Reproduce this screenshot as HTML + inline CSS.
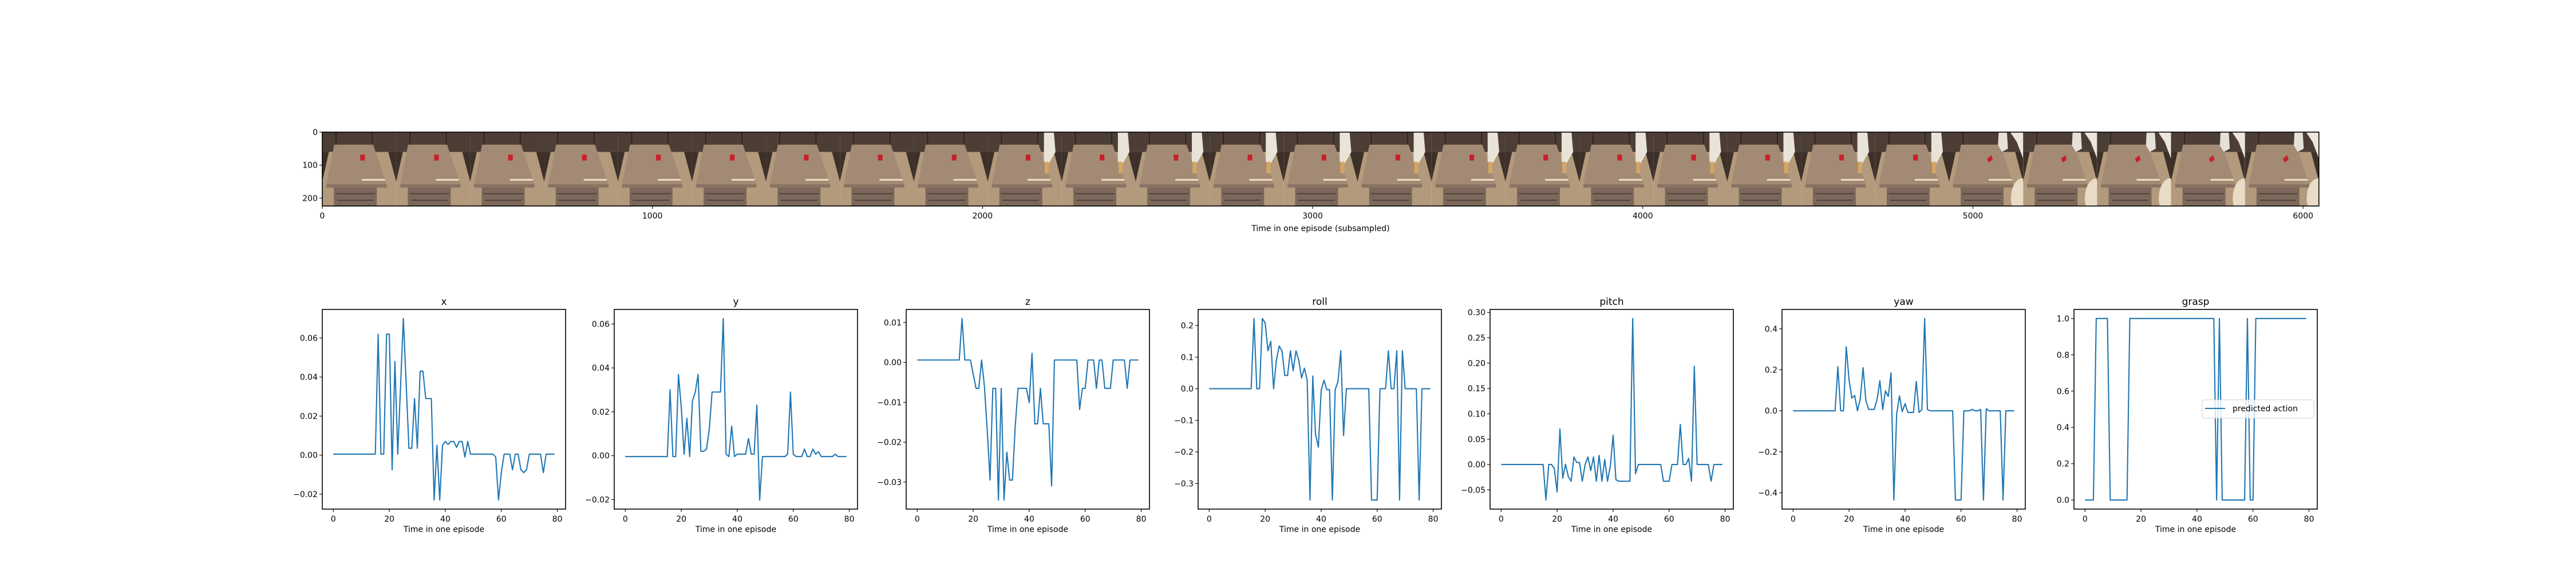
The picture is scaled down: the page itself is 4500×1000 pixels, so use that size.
<!DOCTYPE html>
<html><head><meta charset="utf-8">
<style>
html,body{margin:0;padding:0;background:#fff;}
svg{display:block;font-family:"DejaVu Sans","Liberation Sans",sans-serif;}
</style></head>
<body>
<svg id="fig" width="4500" height="1000" viewBox="0 0 4500 1000" xmlns="http://www.w3.org/2000/svg">
<defs>
<clipPath id="fclip"><rect x="0" y="0" width="224" height="224"/></clipPath>
<g id="frameA">
  <rect x="0" y="0" width="224" height="224" fill="#b39a7c"/>
  <rect x="0" y="0" width="224" height="60" fill="#4d3e35"/>
  <rect x="40" y="0" width="3" height="60" fill="#2a221d"/>
  <rect x="150" y="0" width="3" height="60" fill="#2a221d"/>
  <polygon points="0,60 20,60 0,150" fill="#3d3029"/>
  <polygon points="224,60 200,60 224,150" fill="#3d3029"/>
  <polygon points="36,38 154,38 195,158 12,158" fill="#a38a74"/>
  <rect x="12" y="158" width="183" height="10" fill="#8a7362"/>
  <rect x="120" y="142" width="70" height="5" fill="#efe2c6"/>
  <rect x="35" y="168" width="130" height="56" fill="#7b685b"/>
  <rect x="40" y="185" width="120" height="3" fill="#4b3d34"/>
  <rect x="45" y="205" width="110" height="3" fill="#4b3d34"/>
  <rect x="115" y="68" width="14" height="18" fill="#c8202a"/>
</g>
<g id="frameB">
  <use href="#frameA"/>
  <polygon points="170,0 200,0 205,60 185,95 170,90" fill="#e9e3d8"/>
  <rect x="172" y="90" width="12" height="35" fill="#d4a660"/>
</g>
<g id="frameC" clip-path="url(#fclip)">
  <use href="#frameA"/>
  <rect x="110" y="60" width="25" height="35" fill="#a38a74"/>
  <polygon points="115,80 128,70 132,84 119,92" fill="#c8202a"/>
  <polygon points="150,0 175,0 178,50 160,60 148,40" fill="#e6e1d8"/>
  <polygon points="185,0 224,0 224,80 205,30" fill="#ece6dc"/>
  <ellipse cx="222" cy="200" rx="35" ry="60" fill="#e9dcc6"/>
</g>
</defs>
<g id="strip"></g>
<g id="panels"></g>
</svg>
<script>
// ---- data ----
const frameCount = 27;
const stripXTicks = [0,1000,2000,3000,4000,5000,6000];
const stripYTicks = [0,100,200];
const panelTitles = ["x","y","z","roll","pitch","yaw","grasp"];
const xTicks = [0,20,40,60,80];
const seriesX = [0.0005,0.0005,0.0005,0.0005,0.0005,0.0005,0.0005,0.0005,0.0005,0.0005,0.0005,0.0005,0.0005,0.0005,0.0005,0.0005,
 0.062,0.0005,0.0005,0.062,0.062,-0.0075,0.048,0.0005,0.035,0.07,0.037,0.0035,0.0035,0.029,0.0035,0.043,0.043,0.029,0.029,0.029,
 -0.023,0.005,-0.023,0.005,0.007,0.0055,0.007,0.007,0.004,0.007,0.007,-0.001,0.007,0.0005,0.0005,0.0005,0.0005,0.0005,0.0005,0.0005,0.0005,0.0005,
 -0.001,-0.023,-0.009,0.0005,0.0005,0.0005,-0.0075,0.0005,0.0005,-0.0075,-0.009,-0.0075,0.0005,0.0005,0.0005,0.0005,0.0005,-0.009,0.0005,0.0005,0.0005,0.0005];
const seriesY = [-0.0004,-0.0004,-0.0004,-0.0004,-0.0004,-0.0004,-0.0004,-0.0004,-0.0004,-0.0004,-0.0004,-0.0004,-0.0004,-0.0004,-0.0004,-0.0004,
 0.03,-0.0004,-0.0004,0.037,0.022,0.0007,0.017,-0.0004,0.025,0.029,0.037,0.002,0.002,0.003,0.012,0.029,0.029,0.029,0.029,0.0625,
 0.0007,-0.0004,0.0135,-0.0004,0.0007,0.0007,0.0007,0.0007,0.0078,0.0007,0.0007,0.023,-0.0202,-0.0004,-0.0004,-0.0004,-0.0004,-0.0004,-0.0004,-0.0004,-0.0004,-0.0004,
 0.0007,0.029,0.0007,-0.0004,-0.0004,-0.0004,0.003,-0.0004,-0.0004,0.003,0.0007,0.0018,-0.0004,-0.0004,-0.0004,-0.0004,-0.0004,0.0007,-0.0004,-0.0004,-0.0004,-0.0004];
const seriesZ = [0.0006,0.0006,0.0006,0.0006,0.0006,0.0006,0.0006,0.0006,0.0006,0.0006,0.0006,0.0006,0.0006,0.0006,0.0006,0.0006,
 0.011,0.0006,0.0006,0.0006,-0.003,-0.0065,-0.0065,0.0006,-0.006,-0.017,-0.0295,-0.0065,-0.0065,-0.0345,-0.0065,-0.0345,-0.0225,-0.0295,-0.0295,-0.016,
 -0.0065,-0.0065,-0.0065,-0.0065,-0.0101,0.0023,-0.0154,-0.0154,-0.0065,-0.0154,-0.0154,-0.0154,-0.031,0.0006,0.0006,0.0006,0.0006,0.0006,0.0006,0.0006,0.0006,0.0006,
 -0.0118,-0.0065,-0.0065,0.0006,0.0006,0.0006,-0.0065,0.0006,0.0006,-0.0065,-0.0065,-0.0065,0.0006,0.0006,0.0006,0.0006,0.0006,-0.0065,0.0006,0.0006,0.0006,0.0006];
const seriesRoll = [0,0,0,0,0,0,0,0,0,0,0,0,0,0,0,0,
 0.222,0,0,0.222,0.208,0.12,0.15,0,0.09,0.135,0.12,0.042,0.042,0.12,0.057,0.12,0.09,0.034,0.065,0.028,
 -0.352,0.04,-0.145,-0.185,-0.005,0.027,-0.003,-0.003,-0.352,-0.003,0.022,0.12,-0.148,0,0,0,0,0,0,0,0,0,
 -0.352,-0.352,-0.352,0,0,0,0.12,0,0,0.12,-0.352,0.12,0,0,0,0,0,-0.352,0,0,0,0];
const seriesPitch = [0,0,0,0,0,0,0,0,0,0,0,0,0,0,0,0,
 -0.07,0,0,-0.008,-0.054,0.07,-0.027,0.0005,-0.024,-0.033,0.015,0.004,0.004,-0.033,0,0.015,-0.012,0.015,-0.033,0.018,
 -0.033,0.01,-0.033,-0.003,0.058,-0.03,-0.033,-0.033,-0.033,-0.033,-0.033,0.288,-0.018,0,0,0,0,0,0,0,0,0,
 -0.033,-0.033,-0.033,0,0,0,0.079,0,0,0.012,-0.033,0.194,0,0,0,0,0,-0.033,0,0,0,0];
const seriesYaw = [0,0,0,0,0,0,0,0,0,0,0,0,0,0,0,0,
 0.215,0,0,0.312,0.15,0.062,0.075,0,0.058,0.21,0.05,0.007,0.007,0.007,0.055,0.147,0.006,0.097,0.07,0.185,
 -0.435,-0.015,0.073,-0.004,0.035,-0.008,-0.008,-0.008,0.143,-0.008,0.006,0.45,0.006,0,0,0,0,0,0,0,0,0,
 -0.435,-0.435,-0.435,0,0,0,0.007,0,0,0.007,-0.435,0.01,0,0,0,0,0,-0.435,0,0,0,0];
const seriesGrasp = [0,0,0,0,1,1,1,1,1,0,0,0,0,0,0,0,
 1,1,1,1,1,1,1,1,1,1,1,1,1,1,1,1,1,1,1,1,1,1,1,1,1,1,1,1,1,1,1,
 0,1,0,0,0,0,0,0,0,0,0,1,0,0,
 1,1,1,1,1,1,1,1,1,1,1,1,1,1,1,1,1,1,1];
const yTicksX = [-0.02,0,0.02,0.04,0.06];
const yTicksY = [-0.02,0,0.02,0.04,0.06];
const yTicksZ = [-0.03,-0.02,-0.01,0,0.01];
const yTicksRoll = [-0.3,-0.2,-0.1,0,0.1,0.2];
const yTicksPitch = [-0.05,0,0.05,0.10,0.15,0.20,0.25,0.30];
const yTicksYaw = [-0.4,-0.2,0,0.2,0.4];
const yTicksGrasp = [0,0.2,0.4,0.6,0.8,1.0];
const tickDecimals = [2,2,2,1,2,1,1];
const legendLabel = "predicted action";

const NS="http://www.w3.org/2000/svg";
function mk(tag,attrs,parent){const e=document.createElementNS(NS,tag);for(const k in attrs)e.setAttribute(k,attrs[k]);parent.appendChild(e);return e;}
function fmt(v,d){const s=Math.abs(v).toFixed(d);return (v<-1e-12?"\u2212":"")+s;}

// ---- image strip ----
const strip=document.getElementById('strip');
const SX0=563, ST=231, SPX=0.5767, FW=224;
const sx=v=>SX0+v*SPX, sy=v=>ST+v*SPX;
for(let i=0;i<frameCount;i++){
  const id = i<9?'#frameA':(i<22?'#frameB':'#frameC');
  const u=mk('use',{href:id,transform:`translate(${sx(i*FW)},${ST}) scale(${SPX})`},strip);
  
  
}
mk('rect',{x:SX0,y:ST,width:sx(frameCount*FW)-SX0,height:FW*SPX,fill:'none',stroke:'#000','stroke-width':1.6},strip);
stripXTicks.forEach(t=>{
  const x=sx(t);
  mk('line',{x1:x,x2:x,y1:sy(FW),y2:sy(FW)+5,stroke:'#000','stroke-width':1.1},strip);
  const tx=mk('text',{x:x,y:sy(FW)+22,'font-size':14,'text-anchor':'middle'},strip);tx.textContent=t;
  
  
});
stripYTicks.forEach(t=>{
  const y=sy(t);
  mk('line',{x1:SX0-5,x2:SX0,y1:y,y2:y,stroke:'#000','stroke-width':1.1},strip);
  const tx=mk('text',{x:SX0-8,y:y+5,'font-size':14,'text-anchor':'end'},strip);tx.textContent=t;
  
  
});
const sl=mk('text',{x:(SX0+sx(frameCount*FW))/2,y:404,'font-size':14,'text-anchor':'middle'},strip);
sl.textContent="Time in one episode (subsampled)";



// ---- panels ----
const allSeries=[seriesX,seriesY,seriesZ,seriesRoll,seriesPitch,seriesYaw,seriesGrasp];
const allTicks=[yTicksX,yTicksY,yTicksZ,yTicksRoll,yTicksPitch,yTicksYaw,yTicksGrasp];
const panels=document.getElementById('panels');
const PT=541, PB=890, PW=425;
for(let p=0;p<7;p++){
  const L=563+510*p, R=L+PW;
  const g=mk('g',{},panels);
  
  
  const data=allSeries[p];
  const n=data.length;
  const xmin=-(n-1)*0.05, xmax=(n-1)*1.05;
  let dmin=Math.min(...data), dmax=Math.max(...data);
  const m=(dmax-dmin)*0.05; const ymin=dmin-m, ymax=dmax+m;
  const X=v=>L+(v-xmin)/(xmax-xmin)*PW;
  const Y=v=>PB-(v-ymin)/(ymax-ymin)*(PB-PT);
  const pts=data.map((v,i)=>X(i).toFixed(2)+","+Y(v).toFixed(2)).join(" ");
  const line=mk('polyline',{points:pts,fill:'none',stroke:'#1f77b4','stroke-width':2.1,'stroke-linejoin':'round'},g);
  
  
  mk('rect',{x:L,y:PT,width:PW,height:PB-PT,fill:'none',stroke:'#000','stroke-width':1.6},g);
  xTicks.forEach(t=>{
    const x=X(t);
    mk('line',{x1:x,x2:x,y1:PB,y2:PB+5,stroke:'#000','stroke-width':1.1},g);
    const tx=mk('text',{x:x,y:PB+22,'font-size':14,'text-anchor':'middle'},g);tx.textContent=t;
    
    
  });
  allTicks[p].forEach(t=>{
    const y=Y(t);
    mk('line',{x1:L-5,x2:L,y1:y,y2:y,stroke:'#000','stroke-width':1.1},g);
    const tx=mk('text',{x:L-8,y:y+5,'font-size':14,'text-anchor':'end'},g);tx.textContent=fmt(t,tickDecimals[p]);
    
    
  });
  const tt=mk('text',{x:(L+R)/2,y:PT-8,'font-size':17,'text-anchor':'middle'},g);tt.textContent=panelTitles[p];
  
  
  const xl=mk('text',{x:(L+R)/2,y:PB+40,'font-size':14,'text-anchor':'middle'},g);xl.textContent="Time in one episode";
  
  
  if(p===6){
    const lg=mk('g',{},g);
    
    
    mk('rect',{x:3847,y:699,width:195,height:32,rx:3,fill:'#fff','fill-opacity':0.8,stroke:'#d0d0d0','stroke-width':1},lg);
    mk('line',{x1:3852,x2:3887,y1:714,y2:714,stroke:'#1f77b4','stroke-width':2.1},lg);
    const lt=mk('text',{x:3900,y:719,'font-size':14},lg);lt.textContent=legendLabel;
    
    
  }
}
</script>
</body></html>
